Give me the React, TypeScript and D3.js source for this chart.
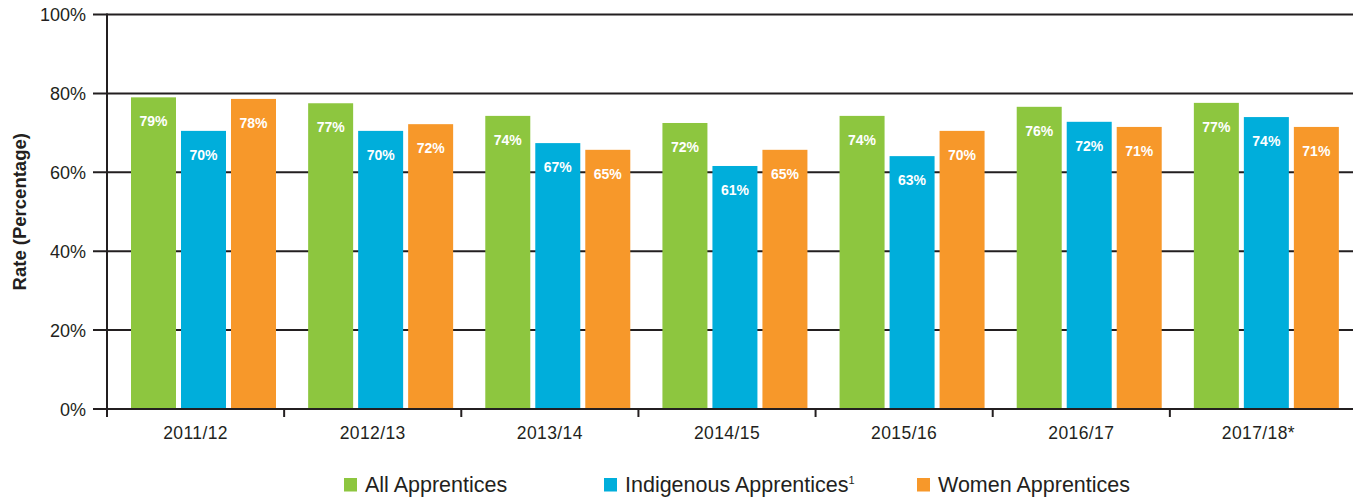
import React, { useEffect, useRef } from "react";
import * as d3 from "d3";

// chart values
const years = ["2011/12", "2012/13", "2013/14", "2014/15", "2015/16", "2016/17", "2017/18*"];
const allApprentices = [79.0, 77.5, 74.3, 72.5, 74.3, 76.6, 77.6];
const indigenousApprentices = [70.5, 70.5, 67.4, 61.6, 64.1, 72.8, 74.0];
const womenApprentices = [78.6, 72.2, 65.7, 65.7, 70.5, 71.5, 71.5];
const allLabels = ["79%", "77%", "74%", "72%", "74%", "76%", "77%"];
const indigenousLabels = ["70%", "70%", "67%", "61%", "63%", "72%", "74%"];
const womenLabels = ["78%", "72%", "65%", "65%", "70%", "71%", "71%"];
const yTicks = [0, 20, 40, 60, 80, 100];

const seriesNames = ["All Apprentices", "Indigenous Apprentices", "Women Apprentices"];
const seriesColors = ["#8dc63f", "#00aedb", "#f7982a"];

const W = 1353;
const H = 499;
const FONT = "'Liberation Sans', Arial, Helvetica, sans-serif";
const INK = "#231f20";

export default function App() {
  const ref = useRef<SVGSVGElement>(null);

  useEffect(() => {
    const svg = d3.select(ref.current);
    svg.selectAll("*").remove();

    const left = 107;
    const right = 1347;
    const top = 14.5;
    const bottom = 409;

    const x = d3.scaleBand<string>().domain(years).range([left, right]).padding(0);
    const y = d3.scaleLinear().domain([0, 100]).range([bottom, top]);
    // bars sit a bit to the right inside each band, like the original
    const inner = d3.scaleBand<string>().domain(seriesNames).range([24, 169]).paddingInner(0.1);

    // horizontal grid lines incl. the little ticks left of the axis
    svg.append("g")
      .selectAll("line")
      .data(yTicks)
      .join("line")
      .attr("x1", 93)
      .attr("x2", W)
      .attr("y1", (d) => y(d))
      .attr("y2", (d) => y(d))
      .attr("stroke", INK)
      .attr("stroke-width", 2);

    // y tick labels
    svg.append("g")
      .selectAll("text")
      .data(yTicks)
      .join("text")
      .attr("x", 86)
      .attr("y", (d) => y(d) + 6.5)
      .attr("text-anchor", "end")
      .style("font-family", FONT)
      .style("font-size", "18px")
      .attr("fill", INK)
      .text((d) => `${d}%`);

    // vertical axis line
    svg.append("line")
      .attr("x1", left)
      .attr("x2", left)
      .attr("y1", top - 1)
      .attr("y2", bottom + 8)
      .attr("stroke", INK)
      .attr("stroke-width", 2);

    // category ticks under the baseline
    svg.append("g")
      .selectAll("line")
      .data(years.slice(1))
      .join("line")
      .attr("x1", (d) => x(d)!)
      .attr("x2", (d) => x(d)!)
      .attr("y1", bottom)
      .attr("y2", bottom + 8)
      .attr("stroke", INK)
      .attr("stroke-width", 2);

    const series = [
      { name: seriesNames[0], values: allApprentices, labels: allLabels },
      { name: seriesNames[1], values: indigenousApprentices, labels: indigenousLabels },
      { name: seriesNames[2], values: womenApprentices, labels: womenLabels },
    ];

    series.forEach((s, si) => {
      const rows = years.map((yr, i) => ({ yr, v: s.values[i], label: s.labels[i] }));
      const g = svg.append("g");
      g.selectAll("rect")
        .data(rows)
        .join("rect")
        .attr("x", (d) => x(d.yr)! + inner(s.name)!)
        .attr("y", (d) => y(d.v))
        .attr("width", inner.bandwidth())
        .attr("height", (d) => y(0) - y(d.v) - 1)
        .attr("fill", seriesColors[si]);

      g.selectAll("text")
        .data(rows)
        .join("text")
        .attr("x", (d) => x(d.yr)! + inner(s.name)! + inner.bandwidth() / 2)
        .attr("y", (d) => y(d.v) + 29)
        .attr("text-anchor", "middle")
        .style("font-family", FONT)
        .style("font-size", "14px")
        .style("font-weight", "bold")
        .attr("fill", "#ffffff")
        .text((d) => d.label);
    });

    // x labels
    svg.append("g")
      .selectAll("text")
      .data(years)
      .join("text")
      .attr("x", (d) => x(d)! + x.bandwidth() / 2)
      .attr("y", 439)
      .attr("text-anchor", "middle")
      .style("font-family", FONT)
      .style("font-size", "17.5px")
      .style("letter-spacing", "0.4px")
      .attr("fill", INK)
      .text((d) => d);

    // y axis title
    svg.append("text")
      .attr("transform", `translate(26,${(top + bottom) / 2}) rotate(-90)`)
      .attr("text-anchor", "middle")
      .style("font-family", FONT)
      .style("font-size", "18.5px")
      .style("font-weight", "bold")
      .attr("fill", INK)
      .text("Rate (Percentage)");

    // legend
    const legendX = [344, 604, 917];
    const lg = svg.append("g");
    seriesNames.forEach((name, i) => {
      lg.append("rect")
        .attr("x", legendX[i])
        .attr("y", 478)
        .attr("width", 13)
        .attr("height", 13.5)
        .attr("fill", seriesColors[i]);
      const t = lg.append("text")
        .attr("x", legendX[i] + 21)
        .attr("y", 492)
        .style("font-family", FONT)
        .style("font-size", "21.5px")
        .attr("fill", INK)
        .text(name);
      if (i === 1) {
        t.append("tspan").attr("dy", -8).style("font-size", "11px").text("1");
      }
    });
  }, []);

  return (
    <svg
      ref={ref}
      width={W}
      height={H}
      style={{ position: "absolute", left: 0, top: 0, background: "#fff" }}
    />
  );
}
